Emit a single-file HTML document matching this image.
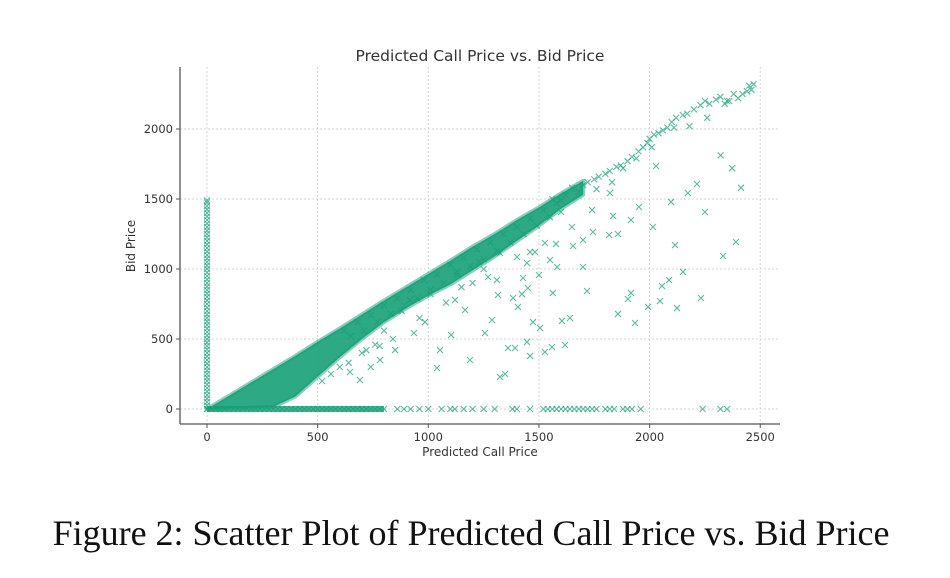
<!DOCTYPE html>
<html><head><meta charset="utf-8">
<style>
html,body{margin:0;padding:0;background:#fff;}
#wrap{position:relative;width:950px;height:578px;overflow:hidden;}
svg{position:absolute;left:0;top:0;}
.cap{position:absolute;left:0;width:942px;top:512px;text-align:center;font-family:"Liberation Serif",serif;font-size:36px;line-height:42px;color:#111;white-space:nowrap;}
</style></head>
<body>
<div id="wrap">
<svg id="chart" width="950" height="578"></svg>
<div class="cap">Figure 2: Scatter Plot of Predicted Call Price vs. Bid Price</div>
</div>
<script>
const xTicks=[0,500,1000,1500,2000,2500];
const yTicks=[0,500,1000,1500,2000];
const bandX=[0,100,200,300,400,500,600,700,800,900,1000,1100,1200,1300,1400,1500,1600,1700];
const bandUpper=[0,95,190,285,380,480,575,675,775,870,965,1060,1160,1250,1350,1440,1540,1630];
const bandLower=[0,4,8,15,90,230,370,500,620,720,810,890,990,1090,1200,1310,1430,1530];
const zeroStackY=[0,25,50,75,100,125,150,175,200,225,250,275,300,325,350,375,400,425,450,475,500,525,550,575,600,625,650,675,700,725,750,775,800,825,850,875,900,925,950,975,1000,1025,1050,1075,1100,1125,1150,1175,1200,1225,1250,1275,1300,1325,1350,1375,1400,1425,1450,1475,1490];
const zeroRowX=[0,20,40,60,80,100,120,140,160,180,200,220,240,260,280,300,320,340,360,380,400,420,440,460,480,500,520,540,560,580,600,620,640,660,680,700,720,740,760,780,800,860,890,920,960,1000,1060,1100,1120,1160,1200,1250,1300,1380,1400,1460,1520,1540,1560,1580,1600,1620,1640,1660,1680,1700,1720,1740,1760,1800,1820,1840,1880,1900,1920,1960,2240,2320,2350];
const diagPred=[1700,1720,1750,1770,1800,1820,1850,1870,1900,1920,1950,1970,2000,2020,2040,2060,2080,2100,2120,2150,2170,2200,2230,2250,2270,2300,2320,2340,2360,2380,2400,2420,2440,2450,2460,2470,1760,1830,1880,1940,1990,2010,2110,2180,2260,2350,1650,1680,1600,1560,1620,620,680,740,800,860,920,980,1040,1100,1160,1220,1280,1340,1400,1460,1520,1580,650,710,770,830,890,950,1010,1070,1130,1190,1250,1310,1370,1430,1490,1550];
const diagBid=[1600,1620,1640,1660,1680,1700,1730,1740,1770,1800,1840,1870,1930,1960,1970,1990,2010,2050,2080,2100,2110,2140,2170,2200,2180,2210,2230,2180,2200,2250,2220,2250,2270,2310,2280,2320,1570,1620,1720,1790,1900,1870,2010,2020,2080,2200,1580,1550,1490,1500,1530,560,620,670,740,790,850,920,960,1030,1080,1140,1190,1250,1300,1360,1420,1470,520,560,620,680,740,790,850,900,960,1020,1070,1130,1190,1250,1310,1370];
const scatPred=[2321,2373,2413,2390,2332,2250,2214,2173,2097,2029,2015,2115,2232,2124,2047,1993,2151,2088,2056,1916,1902,1857,1934,1952,1916,1835,1821,1740,1817,1857,1744,1699,1654,1649,1577,1527,1600,1699,1717,1582,1563,1604,1640,1618,1559,1527,1473,1505,1460,1446,1392,1360,1347,1324,1288,1256,1405,1383,1423,1450,1315,1310,1270,1428,1500,1550,1460,1482,1446,1401,1324,935,985,1053,1103,1039,1166,1188,1121,850,691,646,782,917,1200,1250,1150,1080,960,880,800,760,720,1010,1130,1230,560,600,640,520,700,740,780,840];
const scatBid=[1812,1720,1580,1193,1093,1407,1607,1543,1479,1736,1300,1171,793,721,771,729,979,921,879,829,786,679,614,1443,1350,1379,1543,1421,1243,1250,1264,1207,1164,1300,1179,1186,1407,1014,843,1014,829,629,650,457,443,407,621,579,379,479,436,436,250,229,636,543,729,793,821,864,814,921,943,936,957,1064,1121,1121,1043,1086,1114,543,621,421,529,293,707,350,779,421,207,264,350,779,900,1000,870,760,650,700,560,460,420,820,980,1050,250,300,330,200,400,300,450,500];
const L=180,R=780,T=67,B=424;
const sx=v=>207+v*0.2213;
const sy=v=>409-v*0.14;
const NS='http://www.w3.org/2000/svg';
const svg=document.getElementById('chart');
function mk(tag,attrs,parent){const e=document.createElementNS(NS,tag);for(const k in attrs)e.setAttribute(k,attrs[k]);(parent||svg).appendChild(e);return e;}
xTicks.forEach(t=>{
 const g=mk('line',{x1:sx(t),x2:sx(t),y1:T,y2:B,stroke:'#d4d4d4','stroke-dasharray':'2,2','stroke-width':1});
 
 
 const tk=mk('line',{x1:sx(t),x2:sx(t),y1:B,y2:B+4,stroke:'#555'});
 
 
 const tx=mk('text',{x:sx(t),y:B+17,'text-anchor':'middle','font-family':'DejaVu Sans,sans-serif','font-size':'11.5',fill:'#333'});
 tx.textContent=t;
 
 
});
yTicks.forEach(t=>{
 const g=mk('line',{x1:L,x2:R,y1:sy(t),y2:sy(t),stroke:'#d4d4d4','stroke-dasharray':'2,2','stroke-width':1});
 
 
 const tk=mk('line',{x1:L-4,x2:L,y1:sy(t),y2:sy(t),stroke:'#555'});
 
 
 const tx=mk('text',{x:L-7,y:sy(t)+4,'text-anchor':'end','font-family':'DejaVu Sans,sans-serif','font-size':'11.5',fill:'#333'});
 tx.textContent=t;
 
 
});
const C='#16a077';
let pts=bandX.map((x,i)=>sx(x)+','+sy(bandUpper[i]));
for(let i=bandX.length-1;i>=0;i--)pts.push(sx(bandX[i])+','+sy(bandLower[i]));
const band=mk('polygon',{points:pts.join(' '),fill:C,'fill-opacity':'0.9',stroke:C,'stroke-width':4,'stroke-opacity':0.5,'stroke-linejoin':'round'});


const strip=mk('rect',{x:sx(0),y:sy(0)-3,width:sx(800)-sx(0),height:6,fill:C,'fill-opacity':0.8});


function marker(px,py,name){
 const p=mk('path',{d:`M${px-3},${py-3}l6,6m0,-6l-6,6`,stroke:C,'stroke-width':1.1,'stroke-opacity':0.7,fill:'none'});
 
 
}
zeroStackY.forEach(y=>marker(sx(0),sy(y),'zero-pred-point'));
zeroRowX.forEach(x=>marker(sx(x),sy(0),'zero-bid-point'));
diagPred.forEach((x,i)=>marker(sx(x),sy(diagBid[i]),'diagonal-point'));
scatPred.forEach((x,i)=>marker(sx(x),sy(scatBid[i]),'scatter-point'));
const ls=mk('line',{x1:L,x2:L,y1:T,y2:B,stroke:'#555','stroke-width':1.3});


const bs=mk('line',{x1:L,x2:R,y1:B,y2:B,stroke:'#555','stroke-width':1.3});


const ti=mk('text',{x:480,y:61,'text-anchor':'middle','font-family':'DejaVu Sans,sans-serif','font-size':'15.5',fill:'#333'});
ti.textContent='Predicted Call Price vs. Bid Price';


const xl=mk('text',{x:480,y:456,'text-anchor':'middle','font-family':'DejaVu Sans,sans-serif','font-size':'12',fill:'#333'});
xl.textContent='Predicted Call Price';


const yl=mk('text',{x:0,y:0,'text-anchor':'middle','font-family':'DejaVu Sans,sans-serif','font-size':'12',fill:'#333',transform:'translate(135,246) rotate(-90)'});
yl.textContent='Bid Price';


</script>
</body></html>
